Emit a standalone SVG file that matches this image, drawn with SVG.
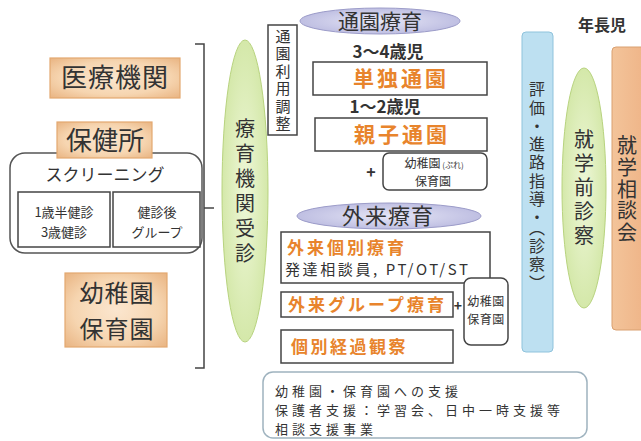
<svg xmlns="http://www.w3.org/2000/svg" width="641" height="441" viewBox="0 0 641 441">
<defs>
<radialGradient id="peach" cx="50%" cy="50%" r="70%">
<stop offset="0" stop-color="#fbe6cf"/>
<stop offset="0.6" stop-color="#f6d5b0"/>
<stop offset="1" stop-color="#e9b482"/>
</radialGradient>
<radialGradient id="green" cx="50%" cy="50%" r="60%">
<stop offset="0" stop-color="#eef7d8"/>
<stop offset="1" stop-color="#cfe5a0"/>
</radialGradient>
<radialGradient id="purple" cx="50%" cy="50%" r="60%">
<stop offset="0" stop-color="#e6e6f6"/>
<stop offset="1" stop-color="#b7b7de"/>
</radialGradient>
<linearGradient id="orange" x1="0" y1="0" x2="1" y2="0">
<stop offset="0" stop-color="#f3c49a"/>
<stop offset="1" stop-color="#eeb184"/>
</linearGradient>
</defs>
<style>
text{font-family:"Noto Sans CJK JP","Noto Sans",sans-serif;fill:#333}
.box{fill:#fff;stroke:#444;stroke-width:1.5}
.peach{fill:url(#peach);stroke:#e3a870;stroke-width:1.2}
.org{fill:#e8842c;font-weight:bold}
.v{writing-mode:vertical-rl;text-anchor:middle}
.conn{fill:none;stroke:#444;stroke-width:1.5}
</style>
<rect width="641" height="441" fill="#fff"/>

<g id="connectors">
<path class="conn" d="M195,44 H204 V368 H195"/>
<path class="conn" d="M204,208 H214"/>
</g>

<g id="iryo">
<rect class="peach" x="50" y="58" width="130" height="40"/>
<text x="115" y="87" font-size="26" letter-spacing="1" text-anchor="middle" fill="#444">医療機関</text>
</g>

<g id="screening">
<rect x="10" y="153" width="192" height="100" rx="15" fill="#fff" stroke="#555" stroke-width="1.5"/>
<text x="105" y="181" font-size="17" text-anchor="middle" fill="#444">スクリーニング</text>
<rect class="box" x="18" y="192" width="92" height="55"/>
<text font-size="13" text-anchor="middle"><tspan x="64" y="217">1歳半健診</tspan><tspan x="64" y="237">3歳健診</tspan></text>
<rect class="box" x="113" y="192" width="87" height="55"/>
<text font-size="13" text-anchor="middle"><tspan x="157" y="217">健診後</tspan><tspan x="157" y="237">グループ</tspan></text>
</g>

<g id="hokenjo">
<rect class="peach" x="57" y="122" width="95" height="36"/>
<text x="105" y="150" font-size="26" text-anchor="middle" fill="#444">保健所</text>
</g>

<g id="yochien-left">
<rect class="peach" x="65" y="273" width="102" height="74"/>
<text font-size="24" letter-spacing="1" text-anchor="middle" fill="#444"><tspan x="117" y="302">幼稚園</tspan><tspan x="117" y="338">保育園</tspan></text>
</g>

<g id="ryoiku-jushin">
<ellipse cx="245" cy="191" rx="23" ry="151" fill="url(#green)" stroke="#b8d37f" stroke-width="1"/>
<text class="v" x="245" y="193" font-size="20" letter-spacing="5">療育機関受診</text>
</g>

<g id="tsuen-chosei">
<rect class="box" x="268" y="25" width="29" height="110"/>
<text class="v" x="283" y="81" font-size="15" letter-spacing="2.5">通園利用調整</text>
</g>

<g id="tsuen-ryoiku">
<ellipse cx="380" cy="21" rx="80" ry="13" fill="url(#purple)" stroke="#9c9cc9" stroke-width="1"/>
<text x="380" y="29" font-size="21" text-anchor="middle" fill="#444">通園療育</text>
</g>

<g id="tandoku">
<text x="388" y="58" font-size="17" font-weight="bold" text-anchor="middle">3～4歳児</text>
<rect class="box" x="313" y="62" width="174" height="33"/>
<text class="org" x="401" y="86" font-size="21" letter-spacing="3" text-anchor="middle">単独通園</text>
</g>

<g id="oyako">
<text x="385" y="113" font-size="17" font-weight="bold" text-anchor="middle">1～2歳児</text>
<rect class="box" x="315" y="118" width="172" height="33"/>
<text class="org" x="402" y="142" font-size="21" letter-spacing="3" text-anchor="middle">親子通園</text>
<text x="371" y="178" font-size="16" font-weight="bold" text-anchor="middle">+</text>
<rect class="box" x="383" y="153" width="104" height="37" rx="6"/>
<text font-size="12" text-anchor="middle"><tspan x="434" y="168">幼稚園<tspan font-size="8"> (ぷれ)</tspan></tspan><tspan x="433" y="185.5">保育園</tspan></text>
</g>

<g id="gairai-ryoiku">
<ellipse cx="389" cy="216" rx="92" ry="13" fill="url(#purple)" stroke="#9c9cc9" stroke-width="1"/>
<text x="388" y="224" font-size="22" letter-spacing="1" text-anchor="middle" fill="#444">外来療育</text>
</g>

<g id="gairai-kobetsu">
<rect class="box" x="281" y="232" width="209" height="51"/>
<text class="org" x="287" y="254" font-size="17" letter-spacing="3">外来個別療育</text>
<text x="285" y="275" font-size="15" textLength="183" lengthAdjust="spacing">発達相談員, PT/OT/ST</text>
</g>

<g id="gairai-group">
<rect class="box" x="281" y="292" width="172" height="25"/>
<text class="org" x="288" y="311" font-size="17" letter-spacing="3">外来グループ療育</text>
<text x="458" y="311" font-size="14" font-weight="bold" text-anchor="middle">+</text>
</g>

<g id="yochien-right">
<rect class="box" x="464" y="278" width="44" height="67" rx="7"/>
<text font-size="12" letter-spacing="0.5" text-anchor="middle"><tspan x="486" y="306">幼稚園</tspan><tspan x="486" y="323.5">保育園</tspan></text>
</g>

<g id="keika">
<rect class="box" x="281" y="330" width="172" height="33"/>
<text class="org" x="291" y="353" font-size="17" letter-spacing="2.5">個別経過観察</text>
</g>

<g id="shien">
<rect x="263" y="372" width="324" height="66" rx="10" fill="#fff" stroke="#9fb3bf" stroke-width="1.5"/>
<text font-size="13" letter-spacing="4" fill="#555"><tspan x="275" y="396">幼稚園・保育園への支援</tspan><tspan x="275" y="415">保護者支援：学習会、日中一時支援等</tspan><tspan x="275" y="434">相談支援事業</tspan></text>
</g>

<g id="hyoka">
<rect x="522" y="32" width="31" height="320" rx="4" fill="#bde0f1" stroke="#8fc3dc" stroke-width="1"/>
<text class="v" x="537" y="187" font-size="16" letter-spacing="2.3">評価・進路指導・（診察）</text>
</g>

<g id="shugakumae">
<ellipse cx="584" cy="188" rx="22" ry="120" fill="url(#green)" stroke="#b8d37f" stroke-width="1"/>
<text class="v" x="584" y="189" font-size="20" letter-spacing="4">就学前診察</text>
</g>

<g id="nenchoji">
<text x="602" y="31" font-size="16" font-weight="bold" text-anchor="middle">年長児</text>
</g>

<g id="shugaku-sodan">
<rect x="612" y="47" width="40" height="283" rx="4" fill="url(#orange)" stroke="#d9a070" stroke-width="1"/>
<text class="v" x="627" y="190" font-size="20" letter-spacing="1.7">就学相談会</text>
</g>
</svg>
